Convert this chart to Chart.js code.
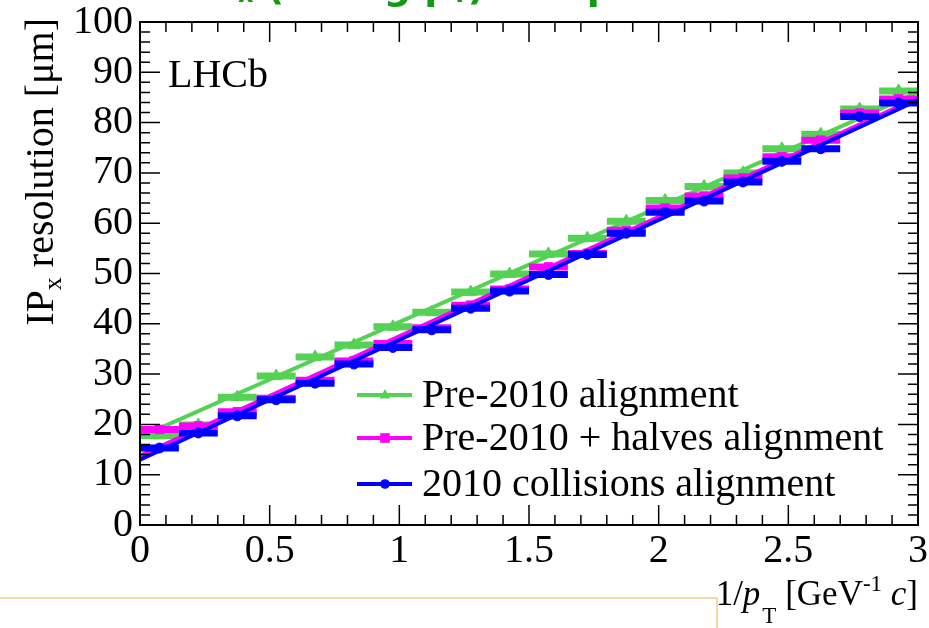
<!DOCTYPE html>
<html>
<head>
<meta charset="utf-8">
<title>IPx resolution vs 1/pT</title>
<script src="https://cdn.jsdelivr.net/npm/chart.js@4.4.1/dist/chart.umd.min.js"></script>
<style>
  html, body { margin: 0; padding: 0; background: #ffffff; }
  #wrap { width: 929px; height: 628px; position: relative; }
</style>
</head>
<body>
<div id="wrap"><canvas id="ipChart" width="929" height="628"></canvas></div>
<script>
// bins in 1/pT (GeV^-1 c), width 0.15
const binCenters = [0.075, 0.225, 0.375, 0.525, 0.675, 0.825, 0.975, 1.125, 1.275, 1.425,
                    1.575, 1.725, 1.875, 2.025, 2.175, 2.325, 2.475, 2.625, 2.775, 2.925];
const binHalfWidth = 0.075;

// IPx resolution in um
const pre2010 = [17.8, 19.9, 25.4, 29.6, 33.4, 35.8, 39.4, 42.3, 46.3, 49.9,
                 53.9, 57.0, 60.4, 64.5, 67.3, 70.0, 74.8, 77.7, 82.7, 86.3];
const pre2010Halves = [19.0, 19.7, 22.5, 25.2, 28.8, 32.6, 36.1, 39.2, 43.7, 46.9,
                       51.3, 54.0, 58.6, 63.0, 65.4, 69.0, 73.2, 76.5, 81.9, 84.7];
const collisions2010 = [15.3, 18.3, 21.7, 24.9, 28.2, 32.0, 35.3, 38.8, 43.1, 46.5,
                        49.8, 53.8, 58.0, 62.2, 64.4, 68.2, 72.3, 74.8, 81.2, 83.9];

// straight line fits, value at the two ends of the axis
const fitX = [0, 3];
const fitPre2010 = [17.5, 86.0];
const fitPre2010Halves = [13.8, 85.0];
const fitCollisions2010 = [13.0, 84.5];

const legendLabels = ['Pre-2010 alignment', 'Pre-2010 + halves alignment', '2010 collisions alignment'];

const GREEN = '#55d255';
const MAGENTA = '#ff00ff';
const BLUE = '#0000ff';
const SERIF = "'Liberation Serif', 'DejaVu Serif', serif";
const FONT_SIZE = 40;

function toPoints(xs, ys) {
    return xs.map((x, i) => ({ x: x, y: ys[i] }));
}

// draws text pieces (sub/superscripts, italics) one after another, right aligned at x
function drawRuns(ctx, runs, x, y) {
    let total = 0;
    runs.forEach(r => { ctx.font = r.font; total += ctx.measureText(r.text).width + (r.dx || 0); });
    let cx = x - total;
    runs.forEach(r => {
        ctx.font = r.font;
        cx += r.dx || 0;
        ctx.fillText(r.text, cx, y + (r.dy || 0));
        cx += ctx.measureText(r.text).width;
    });
}

function drawMarker(ctx, style, x, y, color, size) {
    ctx.fillStyle = color;
    ctx.beginPath();
    if (style === 'triangle') {
        ctx.moveTo(x, y - size);
        ctx.lineTo(x + size * 0.9, y + size * 0.6);
        ctx.lineTo(x - size * 0.9, y + size * 0.6);
        ctx.closePath();
    } else if (style === 'rect') {
        ctx.rect(x - size * 0.8, y - size * 0.8, size * 1.6, size * 1.6);
    } else {
        ctx.arc(x, y, size * 0.8, 0, Math.PI * 2);
    }
    ctx.fill();
}

// horizontal error bars (bin width) drawn just before each marker dataset
const binBarsPlugin = {
    id: 'binBars',
    beforeDatasetDraw(chart, args) {
        const ds = chart.data.datasets[args.index];
        if (!ds.binBars) return;
        const ctx = chart.ctx;
        const xs = chart.scales.x, ys = chart.scales.y;
        ctx.save();
        ctx.strokeStyle = ds.borderColor;
        ctx.lineWidth = 7;
        ds.data.forEach(p => {
            const py = ys.getPixelForValue(p.y);
            ctx.beginPath();
            ctx.moveTo(xs.getPixelForValue(p.x - binHalfWidth), py);
            ctx.lineTo(xs.getPixelForValue(p.x + binHalfWidth), py);
            ctx.stroke();
        });
        ctx.restore();
    }
};

// ROOT style frame, inward ticks, labels and legend
const decorPlugin = {
    id: 'decor',
    afterDraw(chart) {
        const ctx = chart.ctx;
        const a = chart.chartArea;
        const xs = chart.scales.x, ys = chart.scales.y;
        ctx.save();

        ctx.strokeStyle = '#000';
        ctx.lineWidth = 2;
        ctx.strokeRect(a.left, a.top, a.right - a.left, a.bottom - a.top);

        ctx.lineWidth = 1.5;
        ctx.beginPath();
        for (let i = 0; i <= 30; i++) {
            const px = xs.getPixelForValue(i / 10);
            const len = i % 5 === 0 ? 20 : 10;
            ctx.moveTo(px, a.bottom); ctx.lineTo(px, a.bottom - len);
            ctx.moveTo(px, a.top); ctx.lineTo(px, a.top + len);
        }
        for (let i = 0; i <= 50; i++) {
            const py = ys.getPixelForValue(i * 2);
            const len = i % 5 === 0 ? 20 : 10;
            ctx.moveTo(a.left, py); ctx.lineTo(a.left + len, py);
            ctx.moveTo(a.right, py); ctx.lineTo(a.right - len, py);
        }
        ctx.stroke();

        const big = FONT_SIZE + 'px ' + SERIF, small = '26px ' + SERIF;

        ctx.fillStyle = '#000';
        ctx.textBaseline = 'middle';
        ctx.textAlign = 'left';
        ctx.font = big;
        ctx.fillText('LHCb', 168, 76);

        // legend
        const rows = [
            { label: legendLabels[0], color: GREEN, style: 'triangle', y: 395 },
            { label: legendLabels[1], color: MAGENTA, style: 'rect', y: 438 },
            { label: legendLabels[2], color: BLUE, style: 'circle', y: 484 }
        ];
        rows.forEach(r => {
            ctx.strokeStyle = r.color;
            ctx.lineWidth = 4;
            ctx.beginPath();
            ctx.moveTo(357, r.y); ctx.lineTo(412, r.y);
            ctx.stroke();
            drawMarker(ctx, r.style, 385, r.y, r.color, 6);
            ctx.fillStyle = '#000';
            ctx.font = big;
            ctx.fillText(r.label, 422, r.y + 1);
        });

        // axis titles
        ctx.textBaseline = 'alphabetic';
        ctx.fillStyle = '#000';
        const xt = '35px ' + SERIF, xtSmall = '23px ' + SERIF;
        drawRuns(ctx, [
            { text: '1/', font: xt },
            { text: 'p', font: 'italic ' + xt },
            { text: 'T', font: xtSmall, dy: 18, dx: 2 },
            { text: ' [GeV', font: xt },
            { text: '-1', font: xtSmall, dy: -14 },
            { text: ' ', font: xt },
            { text: 'c', font: 'italic ' + xt },
            { text: ']', font: xt }
        ], 918, 605);

        ctx.save();
        ctx.translate(53, 18);
        ctx.rotate(-Math.PI / 2);
        drawRuns(ctx, [
            { text: 'IP', font: big },
            { text: 'x', font: small, dy: 8 },
            { text: ' resolution [\u03bcm]', font: big }
        ], 0, 0);
        ctx.restore();

        // cut off slide title at the very top
        ctx.fillStyle = '#139a13';
        const gb = "bold 38px 'DejaVu Sans', sans-serif", gs = "bold 24px 'DejaVu Sans', sans-serif";
        ctx.textAlign = 'left';
        let gx = 196;
        [['IP', gb, 0], ['x', gs, 3], [' (vs log p', gb, 0], ['T', gs, 3], [') comparison', gb, 0]].forEach(p => {
            ctx.font = p[1];
            ctx.fillText(p[0], gx, -1 + p[2]);
            gx += ctx.measureText(p[0]).width;
        });

        // edge of the box below the plot
        ctx.strokeStyle = '#f9d6a6';
        ctx.lineWidth = 2;
        ctx.beginPath();
        ctx.moveTo(0, 598); ctx.lineTo(717, 598); ctx.lineTo(717, 628);
        ctx.stroke();

        ctx.restore();
    }
};

function buildChart() {
    const ctx = document.getElementById('ipChart').getContext('2d');
    window.ipChart = new Chart(ctx, {
        type: 'scatter',
        data: {
            datasets: [
                {
                    label: legendLabels[2],
                    data: toPoints(binCenters, collisions2010),
                    backgroundColor: BLUE, borderColor: BLUE,
                    pointStyle: 'circle', pointRadius: 5, binBars: true, order: 1
                },
                {
                    label: 'fit 2010 collisions',
                    type: 'line',
                    data: toPoints(fitX, fitCollisions2010),
                    borderColor: BLUE, borderWidth: 4, pointRadius: 0, fill: false, order: 2
                },
                {
                    label: legendLabels[1],
                    data: toPoints(binCenters, pre2010Halves),
                    backgroundColor: MAGENTA, borderColor: MAGENTA,
                    pointStyle: 'rect', pointRadius: 6, binBars: true, order: 3
                },
                {
                    label: 'fit pre-2010 + halves',
                    type: 'line',
                    data: toPoints(fitX, fitPre2010Halves),
                    borderColor: MAGENTA, borderWidth: 4, pointRadius: 0, fill: false, order: 4
                },
                {
                    label: legendLabels[0],
                    data: toPoints(binCenters, pre2010),
                    backgroundColor: GREEN, borderColor: GREEN,
                    pointStyle: 'triangle', pointRadius: 7, binBars: true, order: 5
                },
                {
                    label: 'fit pre-2010',
                    type: 'line',
                    data: toPoints(fitX, fitPre2010),
                    borderColor: GREEN, borderWidth: 4, pointRadius: 0, fill: false, order: 6
                }
            ]
        },
        options: {
            responsive: false,
            devicePixelRatio: 1,
            animation: false,
            layout: { padding: { top: 22, right: 11, left: 0, bottom: 0 } },
            plugins: {
                legend: { display: false },
                tooltip: { enabled: false }
            },
            scales: {
                x: {
                    type: 'linear', min: 0, max: 3,
                    grid: { display: false, drawTicks: false },
                    border: { display: false },
                    ticks: { stepSize: 0.5, color: '#000', padding: 2, maxRotation: 0, autoSkip: false,
                             font: { family: SERIF, size: FONT_SIZE },
                             callback: v => String(Number(v)) },
                    afterFit: s => { s.height = 103; s.paddingLeft = 0; s.paddingRight = 0; }
                },
                y: {
                    min: 0, max: 100,
                    grid: { display: false, drawTicks: false },
                    border: { display: false },
                    ticks: { stepSize: 10, color: '#000', padding: 7, autoSkip: false,
                             font: { family: SERIF, size: FONT_SIZE } },
                    afterFit: s => { s.width = 140; s.paddingTop = 0; s.paddingBottom = 0; }
                }
            }
        },
        plugins: [binBarsPlugin, decorPlugin]
    });
}

buildChart();
</script>
</body>
</html>
